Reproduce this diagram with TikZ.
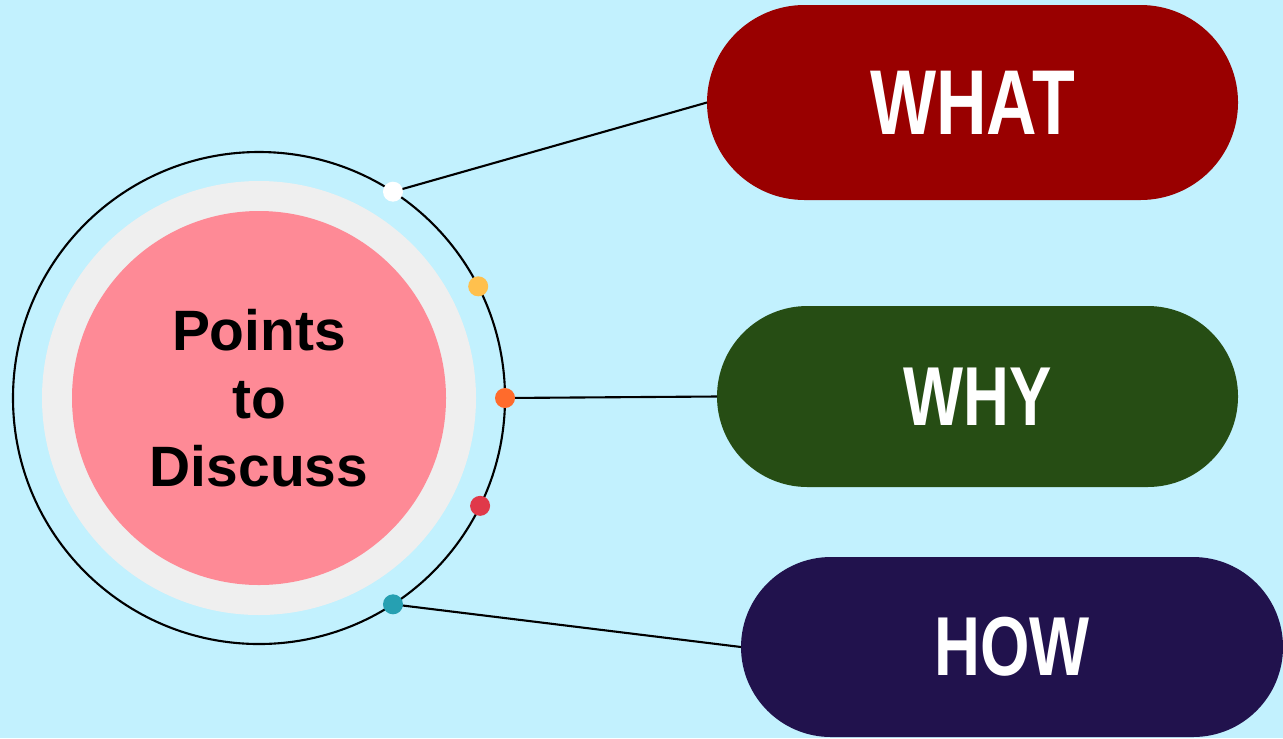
\documentclass[tikz,border=0pt]{standalone}
\usepackage{fontspec}
\setmainfont{Liberation Sans}
\newfontfamily\narrowfont[FakeStretch=0.76]{Liberation Sans}
\usepackage{tikz}
\usetikzlibrary{shapes.misc, positioning}
\definecolor{skyback}{HTML}{C2F1FE}
\definecolor{ringgrey}{HTML}{EFEFEF}
\definecolor{hubpink}{HTML}{FE8A96}
\definecolor{whatred}{HTML}{990000}
\definecolor{whygreen}{HTML}{264D14}
\definecolor{hownavy}{HTML}{21124D}
\definecolor{dotyellow}{HTML}{FFC04D}
\definecolor{dotorange}{HTML}{FF6B2C}
\definecolor{dotred}{HTML}{E0394A}
\definecolor{dotteal}{HTML}{26A0B2}

\tikzset{
  pill/.style={rounded rectangle, inner sep=0pt, outer sep=0pt, text=white,
               font=\narrowfont\bfseries\fontsize{23.8}{24}\selectfont},
  dot/.style={circle, inner sep=0pt, minimum size=0.2cm},
  link/.style={line width=0.6pt}
}

\begin{document}
\begin{tikzpicture}
\fill[skyback] (0,0) rectangle (12.83,7.38);
\useasboundingbox (0,0) rectangle (12.83,7.38);
%
\node[circle, draw, line width=0.6pt, outer sep=0pt, inner sep=0pt,
      minimum size=4.92cm] (ring) at (2.59,3.40) {};
\node[circle, fill=ringgrey, minimum size=4.34cm] (halo) at (ring) {};
\node[circle, fill=hubpink, minimum size=3.74cm, align=center,
      font=\bfseries\fontsize{16.2}{19.4}\selectfont] (hub) at (ring)
      {Points\\to\\Discuss};

\node[pill, fill=whatred, minimum width=5.31cm, minimum height=1.95cm,
      font=\narrowfont\bfseries\fontsize{26.2}{26}\selectfont]
      (what) at (9.725,6.355) {WHAT};
\node[pill, fill=whygreen, minimum width=5.21cm, minimum height=1.81cm]
      (why) at (9.775,3.415) {WHY};
\node[pill, fill=hownavy, minimum width=5.42cm, minimum height=1.80cm]
      (how) at (10.12,0.91) {HOW};

\draw[link] (ring.57.5) -- (what.west);
\draw[link] (ring.0) -- (why.west);
\draw[link] (ring.-57.5) -- (how.west);
%
\node[dot, fill=white] (d1) at (ring.57.5) {};
\node[dot, fill=dotyellow] (d2) at (ring.27) {};
\node[dot, fill=dotorange] (d3) at (ring.0) {};
\node[dot, fill=dotred] (d4) at (ring.-26.5) {};
\node[dot, fill=dotteal] (d5) at (ring.-57.5) {};
\end{tikzpicture}
\end{document}
